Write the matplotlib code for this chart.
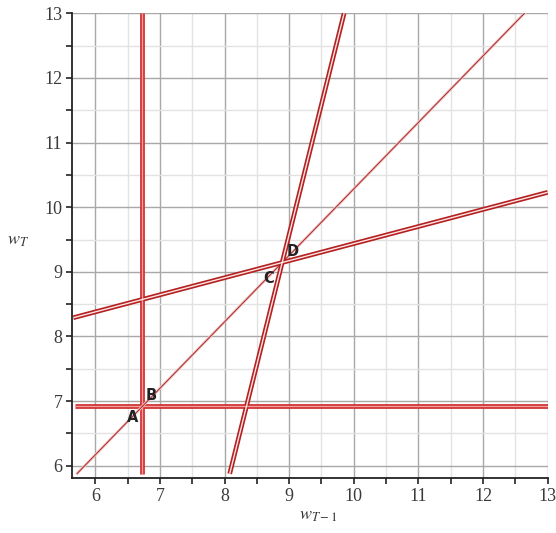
import matplotlib
matplotlib.use("Agg")
import matplotlib.pyplot as plt
from matplotlib.ticker import MultipleLocator

plt.rcParams['mathtext.fontset'] = 'stix'

# line endpoints (x, y)
vert_x = [6.73, 6.73]
vert_y = [5.87, 13.0]
horiz_x = [5.69, 13.0]
horiz_y = [6.92, 6.92]
diag_x = [5.72, 12.64]
diag_y = [5.88, 13.0]
steep_x = [8.08, 9.85]
steep_y = [5.875, 13.0]
shallow_x = [5.66, 13.0]
shallow_y = [8.29, 10.23]

point_labels = ['A', 'B', 'C', 'D']
point_x = [6.58, 6.86, 8.69, 9.06]
point_y = [6.74, 7.08, 8.90, 9.31]

x_ticks = [6, 7, 8, 9, 10, 11, 12, 13]
y_ticks = [6, 7, 8, 9, 10, 11, 12, 13]

fig = plt.figure(figsize=(5.56, 5.33), dpi=100)
ax = fig.add_axes([72/556, 1-478/533, (548-72)/556, (478-13)/533])
ax.set_xlim(5.64, 13.005)
ax.set_ylim(5.81, 13.005)

ax.xaxis.set_major_locator(MultipleLocator(1))
ax.yaxis.set_major_locator(MultipleLocator(1))
ax.xaxis.set_minor_locator(MultipleLocator(0.5))
ax.yaxis.set_minor_locator(MultipleLocator(0.5))
ax.set_xticks(x_ticks)
ax.set_yticks(y_ticks)
ax.grid(which='major', color='#a8a8a8', lw=1.0)
ax.grid(which='minor', color='#e2e2e2', lw=1.0)
ax.set_axisbelow(True)

for s in ['top', 'right']:
    ax.spines[s].set_visible(False)
for s in ['left', 'bottom']:
    ax.spines[s].set_linewidth(1.3)
    ax.spines[s].set_color('#222222')
ax.tick_params(which='both', direction='out', length=4, width=1.2, color='#222222')
ax.tick_params(which='major', labelsize=13, pad=3)
for lab in ax.get_xticklabels() + ax.get_yticklabels():
    lab.set_fontfamily('Liberation Serif')
    lab.set_color('#3a3a3a')

def double(x, y, outer='#c42222', inner='#f7cccc'):
    ax.plot(x, y, color=outer, lw=3.4, solid_capstyle='butt', zorder=3)
    ax.plot(x, y, color=inner, lw=1.0, solid_capstyle='butt', zorder=4)

double(vert_x, vert_y, outer='#d02a2a', inner='#f2a0a0')
double(horiz_x, horiz_y, outer='#d02a2a', inner='#f2a0a0')
ax.plot(diag_x, diag_y, color='#f3c4c4', lw=2.0, zorder=3)
ax.plot(diag_x, diag_y, color='#a82a2a', lw=0.7, zorder=4)
double(steep_x, steep_y, outer='#b52020', inner='#fbe4e4')
double(shallow_x, shallow_y, outer='#b52020', inner='#fbe4e4')

for t, x, y in zip(point_labels, point_x, point_y):
    ax.text(x, y, t, fontsize=10.5, fontweight='bold', ha='center', va='center',
            color='#222222', family='DejaVu Sans', zorder=6)

fig.text(18/556, 1-240/533, r'$w_T$', fontsize=13, ha='center', va='center', color='#333333')
fig.text(318/556, 1-515/533, r'$w_{T-1}$', fontsize=13, ha='center', va='center', color='#333333')

fig.savefig('out.png', dpi=100)
